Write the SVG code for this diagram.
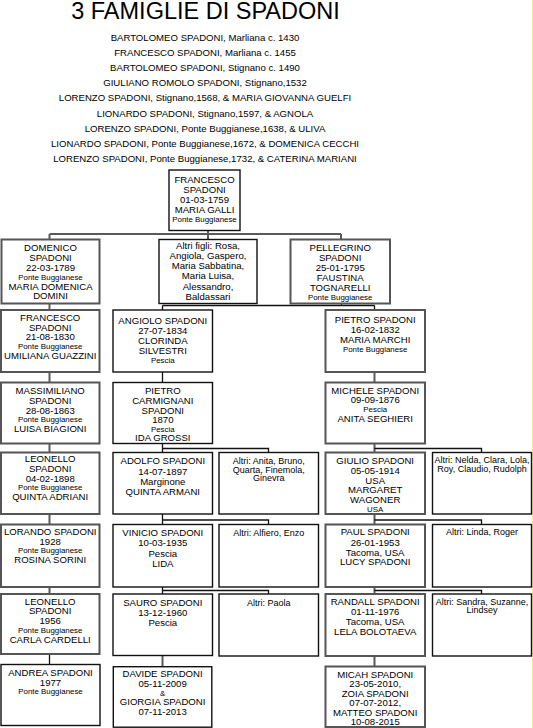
<svg xmlns="http://www.w3.org/2000/svg" width="533" height="728" viewBox="0 0 533 728">
<style>
.bg{fill:#fff;stroke:#555;stroke-width:2}
.bk{fill:#fff;stroke:#111;stroke-width:1.4}
.cg{stroke:#5a5a5a;stroke-width:2;fill:none}
.ck{stroke:#111;stroke-width:1.3;fill:none}
text{font-family:"Liberation Sans",Arial,sans-serif;fill:#000;text-anchor:middle;font-size:9.6px}
.s{font-size:7.9px}
.a{font-size:9px}
.title{font-size:23.5px}
.h{font-size:9.6px}
</style>
<rect x="0" y="0" width="533" height="728" fill="#fff"/>
<rect x="532" y="0" width="1" height="728" fill="#f3ec8a"/>
<g id="header">
<text class="title" x="205.5" y="19">3 FAMIGLIE DI SPADONI</text>
<text class="h" x="205" y="41">BARTOLOMEO SPADONI, Marliana c. 1430</text>
<text class="h" x="205" y="56.1">FRANCESCO SPADONI, Marliana c. 1455</text>
<text class="h" x="205" y="71.2">BARTOLOMEO SPADONI, Stignano c. 1490</text>
<text class="h" x="205" y="86.3">GIULIANO ROMOLO SPADONI, Stignano,1532</text>
<text class="h" x="205" y="101.4">LORENZO SPADONI, Stignano,1568, &amp; MARIA GIOVANNA GUELFI</text>
<text class="h" x="205" y="116.5">LIONARDO SPADONI, Stignano,1597, &amp; AGNOLA</text>
<text class="h" x="205" y="131.6">LORENZO SPADONI, Ponte Buggianese,1638, &amp; ULIVA</text>
<text class="h" x="205" y="146.7">LIONARDO SPADONI, Ponte Buggianese,1672, &amp; DOMENICA CECCHI</text>
<text class="h" x="205" y="161.8">LORENZO SPADONI, Ponte Buggianese,1732, &amp; CATERINA MARIANI</text>
</g>
<g id="connectors">
<path class="cg" d="M208,230.5V239.5M49.5,234H341M49.5,234V239.5M341,234V239.5"/>
<path class="cg" d="M49.5,303.5V310M49.5,372V382.5M49.5,443.5V452.5M49.5,514V524.5M49.5,587V594"/>
<path class="ck" d="M49.5,654V664.5"/>
<path class="ck" d="M341.5,303.5V305.5M162.5,305.5H374.5M162.5,305.5V310M374.5,305.5V310"/>
<path class="ck" d="M162.5,372V382.5M162.5,443.5V452.5M162.5,448.5H268.5V452.5M162.5,514V524.5M162.5,520H268.5V524.5M162.5,587V594M162.5,590.5H268.5V594"/>
<path class="cg" d="M162.5,655.5V666.7"/>
<path class="cg" d="M374.5,372V382.5M374.5,443.5V452.5M374.5,514V524.5M374.5,587V594M374.5,656V666.5"/>
<path class="ck" d="M374.5,448.5H481.5V452.5M374.5,520H481.5V524.5M374.5,590.5H481.5V594"/>
</g>
<g id="n_francesco_1759">
<rect class="bk" x="169" y="170" width="71" height="60.5"/>
<text x="204.5" y="182.7">FRANCESCO</text>
<text x="204.5" y="192.6">SPADONI</text>
<text x="204.5" y="202.6">01-03-1759</text>
<text x="204.5" y="212.5">MARIA GALLI</text>
<text class="s" x="204.5" y="221.8">Ponte Buggianese</text>
</g>
<g id="n_domenico">
<rect class="bg" x="1.5" y="239.5" width="98" height="64"/>
<text x="50.5" y="251">DOMENICO</text>
<text x="50.5" y="261">SPADONI</text>
<text x="50.5" y="271">22-03-1789</text>
<text class="s" x="50.5" y="280.1">Ponte Buggianese</text>
<text x="50.5" y="289.7">MARIA DOMENICA</text>
<text x="50.5" y="299.4">DOMINI</text>
</g>
<g id="n_altri_figli">
<rect class="bk" x="159" y="239.5" width="98" height="64"/>
<text x="208" y="249">Altri figli: Rosa,</text>
<text x="208" y="259.2">Angiola, Gaspero,</text>
<text x="208" y="269.3">Maria Sabbatina,</text>
<text x="208" y="279.4">Maria Luisa,</text>
<text x="208" y="289.5">Alessandro,</text>
<text x="208" y="299.5">Baldassari</text>
</g>
<g id="n_pellegrino">
<rect class="bg" x="290.5" y="239.5" width="99.5" height="64"/>
<text x="340.2" y="251">PELLEGRINO</text>
<text x="340.2" y="261">SPADONI</text>
<text x="340.2" y="270.8">25-01-1795</text>
<text x="340.2" y="280.8">FAUSTINA</text>
<text x="340.2" y="290.6">TOGNARELLI</text>
<text class="s" x="340.2" y="299.8">Ponte Buggianese</text>
</g>
<g id="n_francesco_1830">
<rect class="bg" x="1" y="310" width="98.5" height="62"/>
<text x="50.2" y="320.5">FRANCESCO</text>
<text x="50.2" y="330.5">SPADONI</text>
<text x="50.2" y="340.3">21-08-1830</text>
<text class="s" x="50.2" y="349.4">Ponte Buggianese</text>
<text x="50.2" y="359.4">UMILIANA GUAZZINI</text>
</g>
<g id="n_angiolo">
<rect class="bk" x="113" y="310" width="99.5" height="62"/>
<text x="162.8" y="324">ANGIOLO SPADONI</text>
<text x="162.8" y="334">27-07-1834</text>
<text x="162.8" y="343.8">CLORINDA</text>
<text x="162.8" y="353.6">SILVESTRI</text>
<text class="s" x="162.8" y="362.6">Pescia</text>
</g>
<g id="n_pietro_1832">
<rect class="bg" x="325.5" y="310" width="99.5" height="62"/>
<text x="375.2" y="323.2">PIETRO SPADONI</text>
<text x="375.2" y="333.4">16-02-1832</text>
<text x="375.2" y="343.3">MARIA MARCHI</text>
<text class="s" x="375.2" y="352">Ponte Buggianese</text>
</g>
<g id="n_massimiliano">
<rect class="bg" x="1" y="382.5" width="98.5" height="61"/>
<text x="50.2" y="393.5">MASSIMILIANO</text>
<text x="50.2" y="403.6">SPADONI</text>
<text x="50.2" y="413.6">28-08-1863</text>
<text class="s" x="50.2" y="422.2">Ponte Buggianese</text>
<text x="50.2" y="431.8">LUISA BIAGIONI</text>
</g>
<g id="n_pietro_carmignani">
<rect class="bk" x="113" y="382.5" width="99.5" height="61"/>
<text x="162.8" y="394.1">PIETRO</text>
<text x="162.8" y="403.8">CARMIGNANI</text>
<text x="162.8" y="413.5">SPADONI</text>
<text x="162.8" y="423.2">1870</text>
<text class="s" x="162.8" y="431.6">Pescia</text>
<text x="162.8" y="441.2">IDA GROSSI</text>
</g>
<g id="n_michele">
<rect class="bg" x="325.5" y="382.5" width="99.5" height="61"/>
<text x="375.2" y="393.5">MICHELE SPADONI</text>
<text x="375.2" y="403.4">09-09-1876</text>
<text class="s" x="375.2" y="412.2">Pescia</text>
<text x="375.2" y="421.9">ANITA SEGHIERI</text>
</g>
<g id="n_leonello_1898">
<rect class="bg" x="1" y="452.5" width="98.5" height="61.5"/>
<text x="50.2" y="462.2">LEONELLO</text>
<text x="50.2" y="472.2">SPADONI</text>
<text x="50.2" y="482.2">04-02-1898</text>
<text class="s" x="50.2" y="490.3">Ponte Buggianese</text>
<text x="50.2" y="499.8">QUINTA ADRIANI</text>
</g>
<g id="n_adolfo">
<rect class="bk" x="113" y="452.5" width="99.5" height="61.5"/>
<text x="162.8" y="464.4">ADOLFO SPADONI</text>
<text x="162.8" y="474.6">14-07-1897</text>
<text x="162.8" y="484.8">Marginone</text>
<text x="162.8" y="494.6">QUINTA ARMANI</text>
</g>
<g id="n_altri_anita">
<rect class="bk" x="219" y="452.5" width="99.5" height="61.5"/>
<text class="a" x="268.8" y="464">Altri: Anita, Bruno,</text>
<text class="a" x="268.8" y="472.8">Quarta, Finemola,</text>
<text class="a" x="268.8" y="481.4">Ginevra</text>
</g>
<g id="n_giulio">
<rect class="bg" x="325.5" y="452.5" width="99.5" height="61.5"/>
<text x="375.2" y="464">GIULIO SPADONI</text>
<text x="375.2" y="473.8">05-05-1914</text>
<text x="375.2" y="483.6">USA</text>
<text x="375.2" y="493.4">MARGARET</text>
<text x="375.2" y="503">WAGONER</text>
<text class="s" x="375.2" y="511.5">USA</text>
</g>
<g id="n_altri_nelda">
<rect class="bk" x="432.5" y="452.5" width="99" height="61.5"/>
<text class="a" x="482" y="463.4">Altri: Nelda, Clara, Lola,</text>
<text class="a" x="482" y="472.2">Roy, Claudio, Rudolph</text>
</g>
<g id="n_lorando">
<rect class="bg" x="1" y="524.5" width="98.5" height="62.5"/>
<text x="50.2" y="535.3">LORANDO SPADONI</text>
<text x="50.2" y="545">1928</text>
<text class="s" x="50.2" y="553.4">Ponte Buggianese</text>
<text x="50.2" y="562.9">ROSINA SORINI</text>
</g>
<g id="n_vinicio">
<rect class="bk" x="113" y="524.5" width="99.5" height="62.5"/>
<text x="162.8" y="536.3">VINICIO SPADONI</text>
<text x="162.8" y="546.4">10-03-1935</text>
<text x="162.8" y="556.6">Pescia</text>
<text x="162.8" y="566.7">LIDA</text>
</g>
<g id="n_altri_alfiero">
<rect class="bk" x="219" y="524.5" width="99.5" height="62.5"/>
<text class="a" x="268.8" y="536">Altri: Alfiero, Enzo</text>
</g>
<g id="n_paul">
<rect class="bg" x="325.5" y="524.5" width="99.5" height="62.5"/>
<text x="375.2" y="535.3">PAUL SPADONI</text>
<text x="375.2" y="545.5">26-01-1953</text>
<text x="375.2" y="555.6">Tacoma, USA</text>
<text x="375.2" y="565.4">LUCY SPADONI</text>
</g>
<g id="n_altri_linda">
<rect class="bk" x="432.5" y="524.5" width="99" height="62.5"/>
<text class="a" x="482" y="535">Altri: Linda, Roger</text>
</g>
<g id="n_leonello_1956">
<rect class="bg" x="1" y="594" width="98.5" height="60"/>
<text x="50.2" y="604.6">LEONELLO</text>
<text x="50.2" y="614.4">SPADONI</text>
<text x="50.2" y="624.2">1956</text>
<text class="s" x="50.2" y="632.8">Ponte Buggianese</text>
<text x="50.2" y="642.8">CARLA CARDELLI</text>
</g>
<g id="n_sauro">
<rect class="bk" x="113" y="594" width="99.5" height="61.5"/>
<text x="162.8" y="606.2">SAURO SPADONI</text>
<text x="162.8" y="615.9">13-12-1960</text>
<text x="162.8" y="625.9">Pescia</text>
</g>
<g id="n_altri_paola">
<rect class="bk" x="219" y="594" width="99.5" height="62"/>
<text class="a" x="268.8" y="606">Altri: Paola</text>
</g>
<g id="n_randall">
<rect class="bg" x="325.5" y="594" width="99.5" height="62"/>
<text x="375.2" y="604.8">RANDALL SPADONI</text>
<text x="375.2" y="615">01-11-1976</text>
<text x="375.2" y="625.2">Tacoma, USA</text>
<text x="375.2" y="635.1">LELA BOLOTAEVA</text>
</g>
<g id="n_altri_sandra">
<rect class="bk" x="432.5" y="594" width="99" height="62"/>
<text class="a" x="482" y="604.5">Altri: Sandra, Suzanne,</text>
<text class="a" x="482" y="613.3">Lindsey</text>
</g>
<g id="n_andrea">
<rect class="bk" x="1" y="664.5" width="99" height="61"/>
<text x="50.5" y="676">ANDREA SPADONI</text>
<text x="50.5" y="685.8">1977</text>
<text class="s" x="50.5" y="694.2">Ponte Buggianese</text>
</g>
<g id="n_davide">
<rect class="bk" x="113.3" y="666.7" width="98.5" height="60.5"/>
<text x="162.6" y="677">DAVIDE SPADONI</text>
<text x="162.6" y="687">05-11-2009</text>
<text class="s" x="162.6" y="695.6">&amp;</text>
<text x="162.6" y="705.3">GIORGIA SPADONI</text>
<text x="162.6" y="714.8">07-11-2013</text>
</g>
<g id="n_micah">
<rect class="bg" x="325.5" y="666.5" width="99.5" height="60.5"/>
<text x="375.2" y="677.5">MICAH SPADONI</text>
<text x="375.2" y="687">23-05-2010,</text>
<text x="375.2" y="696.5">ZOIA SPADONI</text>
<text x="375.2" y="706">07-07-2012,</text>
<text x="375.2" y="715.5">MATTEO SPADONI</text>
<text x="375.2" y="725">10-08-2015</text>
</g>
</svg>
